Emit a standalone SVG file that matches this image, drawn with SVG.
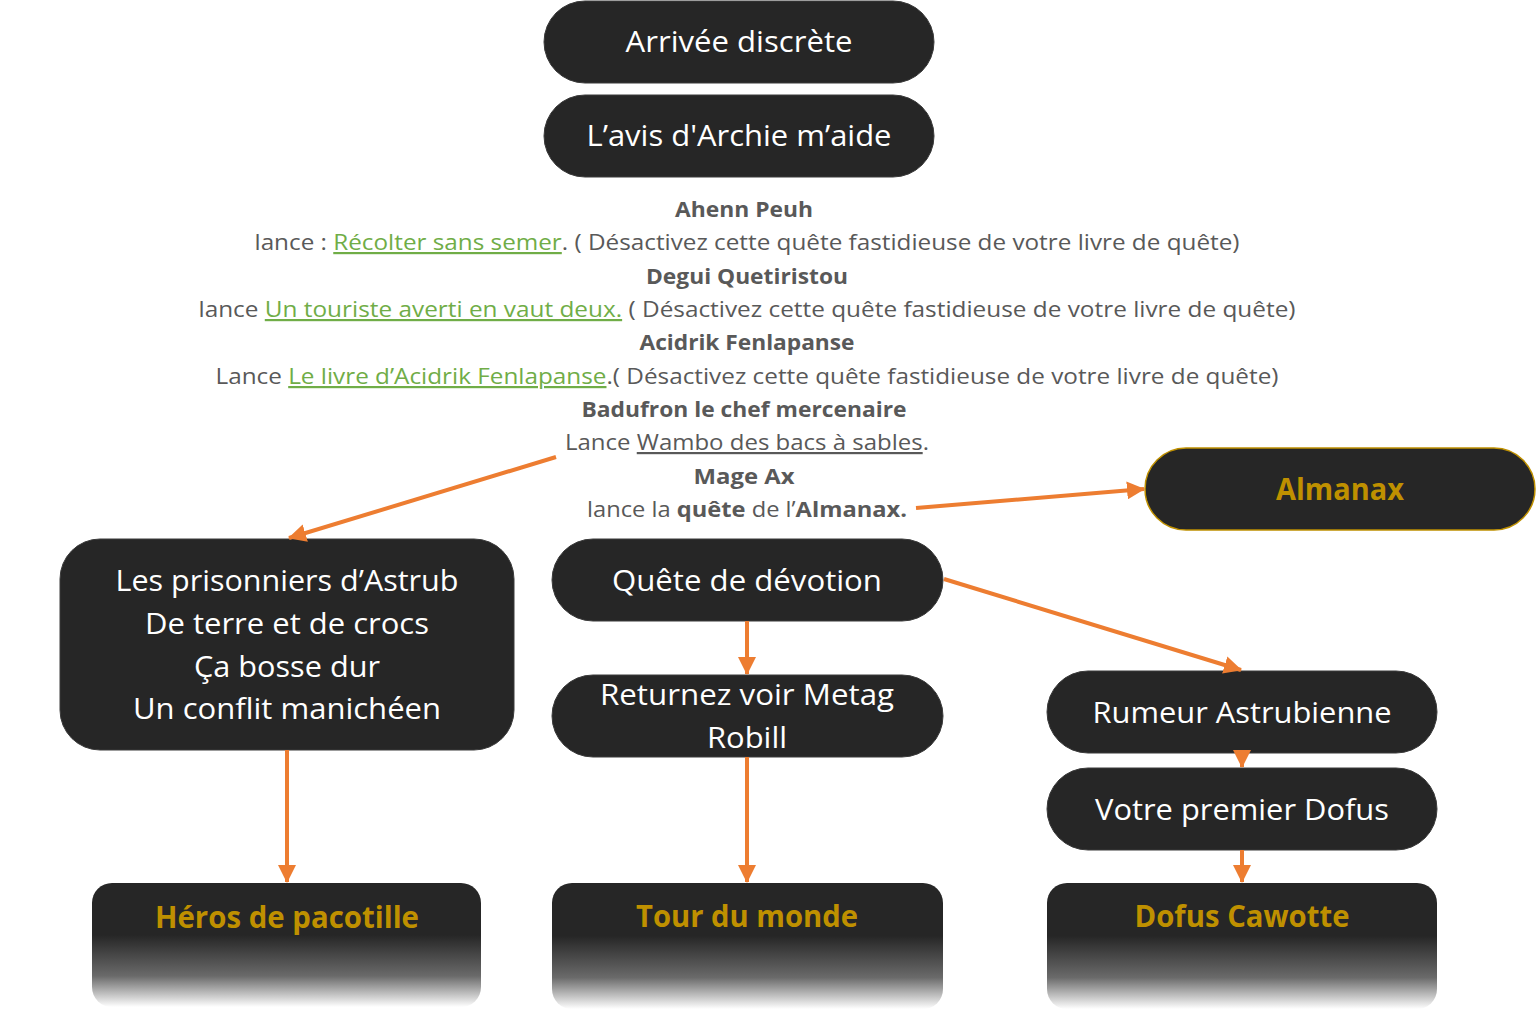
<svg xmlns="http://www.w3.org/2000/svg" width="1536" height="1014" viewBox="0 0 1536 1014">
<style>
.node{fill:#262626;stroke:#3a3a3a;stroke-width:1}
.nt{font-family:"Open Sans","Noto Sans",sans-serif;font-size:30px;fill:#ffffff;text-anchor:middle}
.gt{font-family:"Open Sans","Noto Sans",sans-serif;font-size:30px;font-weight:bold;fill:#BF9000;text-anchor:middle}
.tb{font-family:"Open Sans","Noto Sans",sans-serif;font-size:22px;fill:#595959;text-anchor:middle}
.b{font-weight:bold}
.lk{fill:#70AD47;text-decoration:underline}
.ul{text-decoration:underline}
.conn{stroke:#ED7D31;stroke-width:4;fill:none;marker-end:url(#ah)}
</style>
<defs>
<marker id="ah" markerUnits="userSpaceOnUse" markerWidth="18" markerHeight="18" viewBox="0 0 18 18" refX="17" refY="9" orient="auto">
<path d="M0,0 L18,9 L0,18 Z" fill="#ED7D31"/>
</marker>
<linearGradient id="fade" x1="0" y1="0" x2="0" y2="1">
<stop offset="0" stop-color="#262626"/>
<stop offset="0.42" stop-color="#262626"/>
<stop offset="0.75" stop-color="#6a6a6a"/>
<stop offset="1" stop-color="#ffffff"/>
</linearGradient>
</defs>

<g id="n-arrivee">
<rect class="node" x="544" y="1" width="390" height="82" rx="41"/>
<text class="nt" x="739" y="52" textLength="227" lengthAdjust="spacingAndGlyphs">Arrivée discrète</text>
</g>
<g id="n-avis">
<rect class="node" x="544" y="95" width="390" height="82" rx="41"/>
<text class="nt" x="739" y="146" textLength="305" lengthAdjust="spacingAndGlyphs">L’avis d'Archie m’aide</text>
</g>

<g id="n-texte">
<text class="tb b" x="744" y="217" textLength="138" lengthAdjust="spacingAndGlyphs">Ahenn Peuh</text>
<text class="tb" x="747" y="250" textLength="985" lengthAdjust="spacingAndGlyphs">lance : <tspan class="lk">Récolter sans semer</tspan>. ( Désactivez cette quête fastidieuse de votre livre de quête)</text>
<text class="tb b" x="747" y="284" textLength="202" lengthAdjust="spacingAndGlyphs">Degui Quetiristou</text>
<text class="tb" x="747" y="317" textLength="1097" lengthAdjust="spacingAndGlyphs">lance <tspan class="lk">Un touriste averti en vaut deux.</tspan> ( Désactivez cette quête fastidieuse de votre livre de quête)</text>
<text class="tb b" x="747" y="350" textLength="215" lengthAdjust="spacingAndGlyphs">Acidrik Fenlapanse</text>
<text class="tb" x="747" y="384" textLength="1063" lengthAdjust="spacingAndGlyphs">Lance <tspan class="lk">Le livre d’Acidrik Fenlapanse</tspan>.( Désactivez cette quête fastidieuse de votre livre de quête)</text>
<text class="tb b" x="744" y="417" textLength="325" lengthAdjust="spacingAndGlyphs">Badufron le chef mercenaire</text>
<text class="tb" x="747" y="450" textLength="364" lengthAdjust="spacingAndGlyphs">Lance <tspan class="ul">Wambo des bacs à sables</tspan>.</text>
<text class="tb b" x="744" y="484" textLength="101" lengthAdjust="spacingAndGlyphs">Mage Ax</text>
<text class="tb" x="747" y="517" textLength="320" lengthAdjust="spacingAndGlyphs">lance la <tspan class="b">quête</tspan> de l’<tspan class="b">Almanax.</tspan></text>
</g>

<g id="n-almanax">
<rect x="1145" y="448" width="390" height="82" rx="41" fill="#262626" stroke="#BF9000" stroke-width="1.5"/>
<text class="gt" x="1340" y="500" textLength="128" lengthAdjust="spacingAndGlyphs">Almanax</text>
</g>

<g id="n-prisonniers">
<rect class="node" x="60" y="539" width="454" height="211" rx="40"/>
<text class="nt" x="287" y="591" textLength="343" lengthAdjust="spacingAndGlyphs">Les prisonniers d’Astrub</text>
<text class="nt" x="287" y="634" textLength="284" lengthAdjust="spacingAndGlyphs">De terre et de crocs</text>
<text class="nt" x="287" y="677" textLength="186" lengthAdjust="spacingAndGlyphs">Ça bosse dur</text>
<text class="nt" x="287" y="719" textLength="308" lengthAdjust="spacingAndGlyphs">Un conflit manichéen</text>
</g>

<g id="n-devotion">
<rect class="node" x="552" y="539" width="391" height="82" rx="41"/>
<text class="nt" x="747" y="591" textLength="270" lengthAdjust="spacingAndGlyphs">Quête de dévotion</text>
</g>

<g id="n-metag">
<rect class="node" x="552" y="675" width="391" height="82" rx="41"/>
<text class="nt" x="747" y="705" textLength="294" lengthAdjust="spacingAndGlyphs">Returnez voir Metag</text>
<text class="nt" x="747" y="748" textLength="80" lengthAdjust="spacingAndGlyphs">Robill</text>
</g>

<g id="n-rumeur">
<rect class="node" x="1047" y="671" width="390" height="82" rx="41"/>
<text class="nt" x="1242" y="723" textLength="299" lengthAdjust="spacingAndGlyphs">Rumeur Astrubienne</text>
</g>

<g id="n-premier">
<rect class="node" x="1047" y="768" width="390" height="82" rx="41"/>
<text class="nt" x="1242" y="820" textLength="294" lengthAdjust="spacingAndGlyphs">Votre premier Dofus</text>
</g>

<g id="n-heros">
<rect x="92" y="883" width="389" height="124" rx="20" fill="url(#fade)"/>
<text class="gt" x="287" y="928" textLength="264" lengthAdjust="spacingAndGlyphs">Héros de pacotille</text>
</g>
<g id="n-tour">
<rect x="552" y="883" width="391" height="126" rx="20" fill="url(#fade)"/>
<text class="gt" x="747" y="927" textLength="222" lengthAdjust="spacingAndGlyphs">Tour du monde</text>
</g>
<g id="n-cawotte">
<rect x="1047" y="883" width="390" height="126" rx="20" fill="url(#fade)"/>
<text class="gt" x="1242" y="927" textLength="215" lengthAdjust="spacingAndGlyphs">Dofus Cawotte</text>
</g>

<g id="connectors">
<line class="conn" x1="556" y1="457" x2="289" y2="538"/>
<line class="conn" x1="916" y1="508" x2="1144" y2="489"/>
<line class="conn" x1="944" y1="579" x2="1241" y2="670"/>
<line class="conn" x1="747" y1="621" x2="747" y2="674"/>
<line class="conn" x1="747" y1="757" x2="747" y2="882"/>
<line class="conn" x1="287" y1="750" x2="287" y2="882"/>
<line class="conn" x1="1242" y1="752" x2="1242" y2="767"/>
<line class="conn" x1="1242" y1="850" x2="1242" y2="882"/>
</g>
</svg>
